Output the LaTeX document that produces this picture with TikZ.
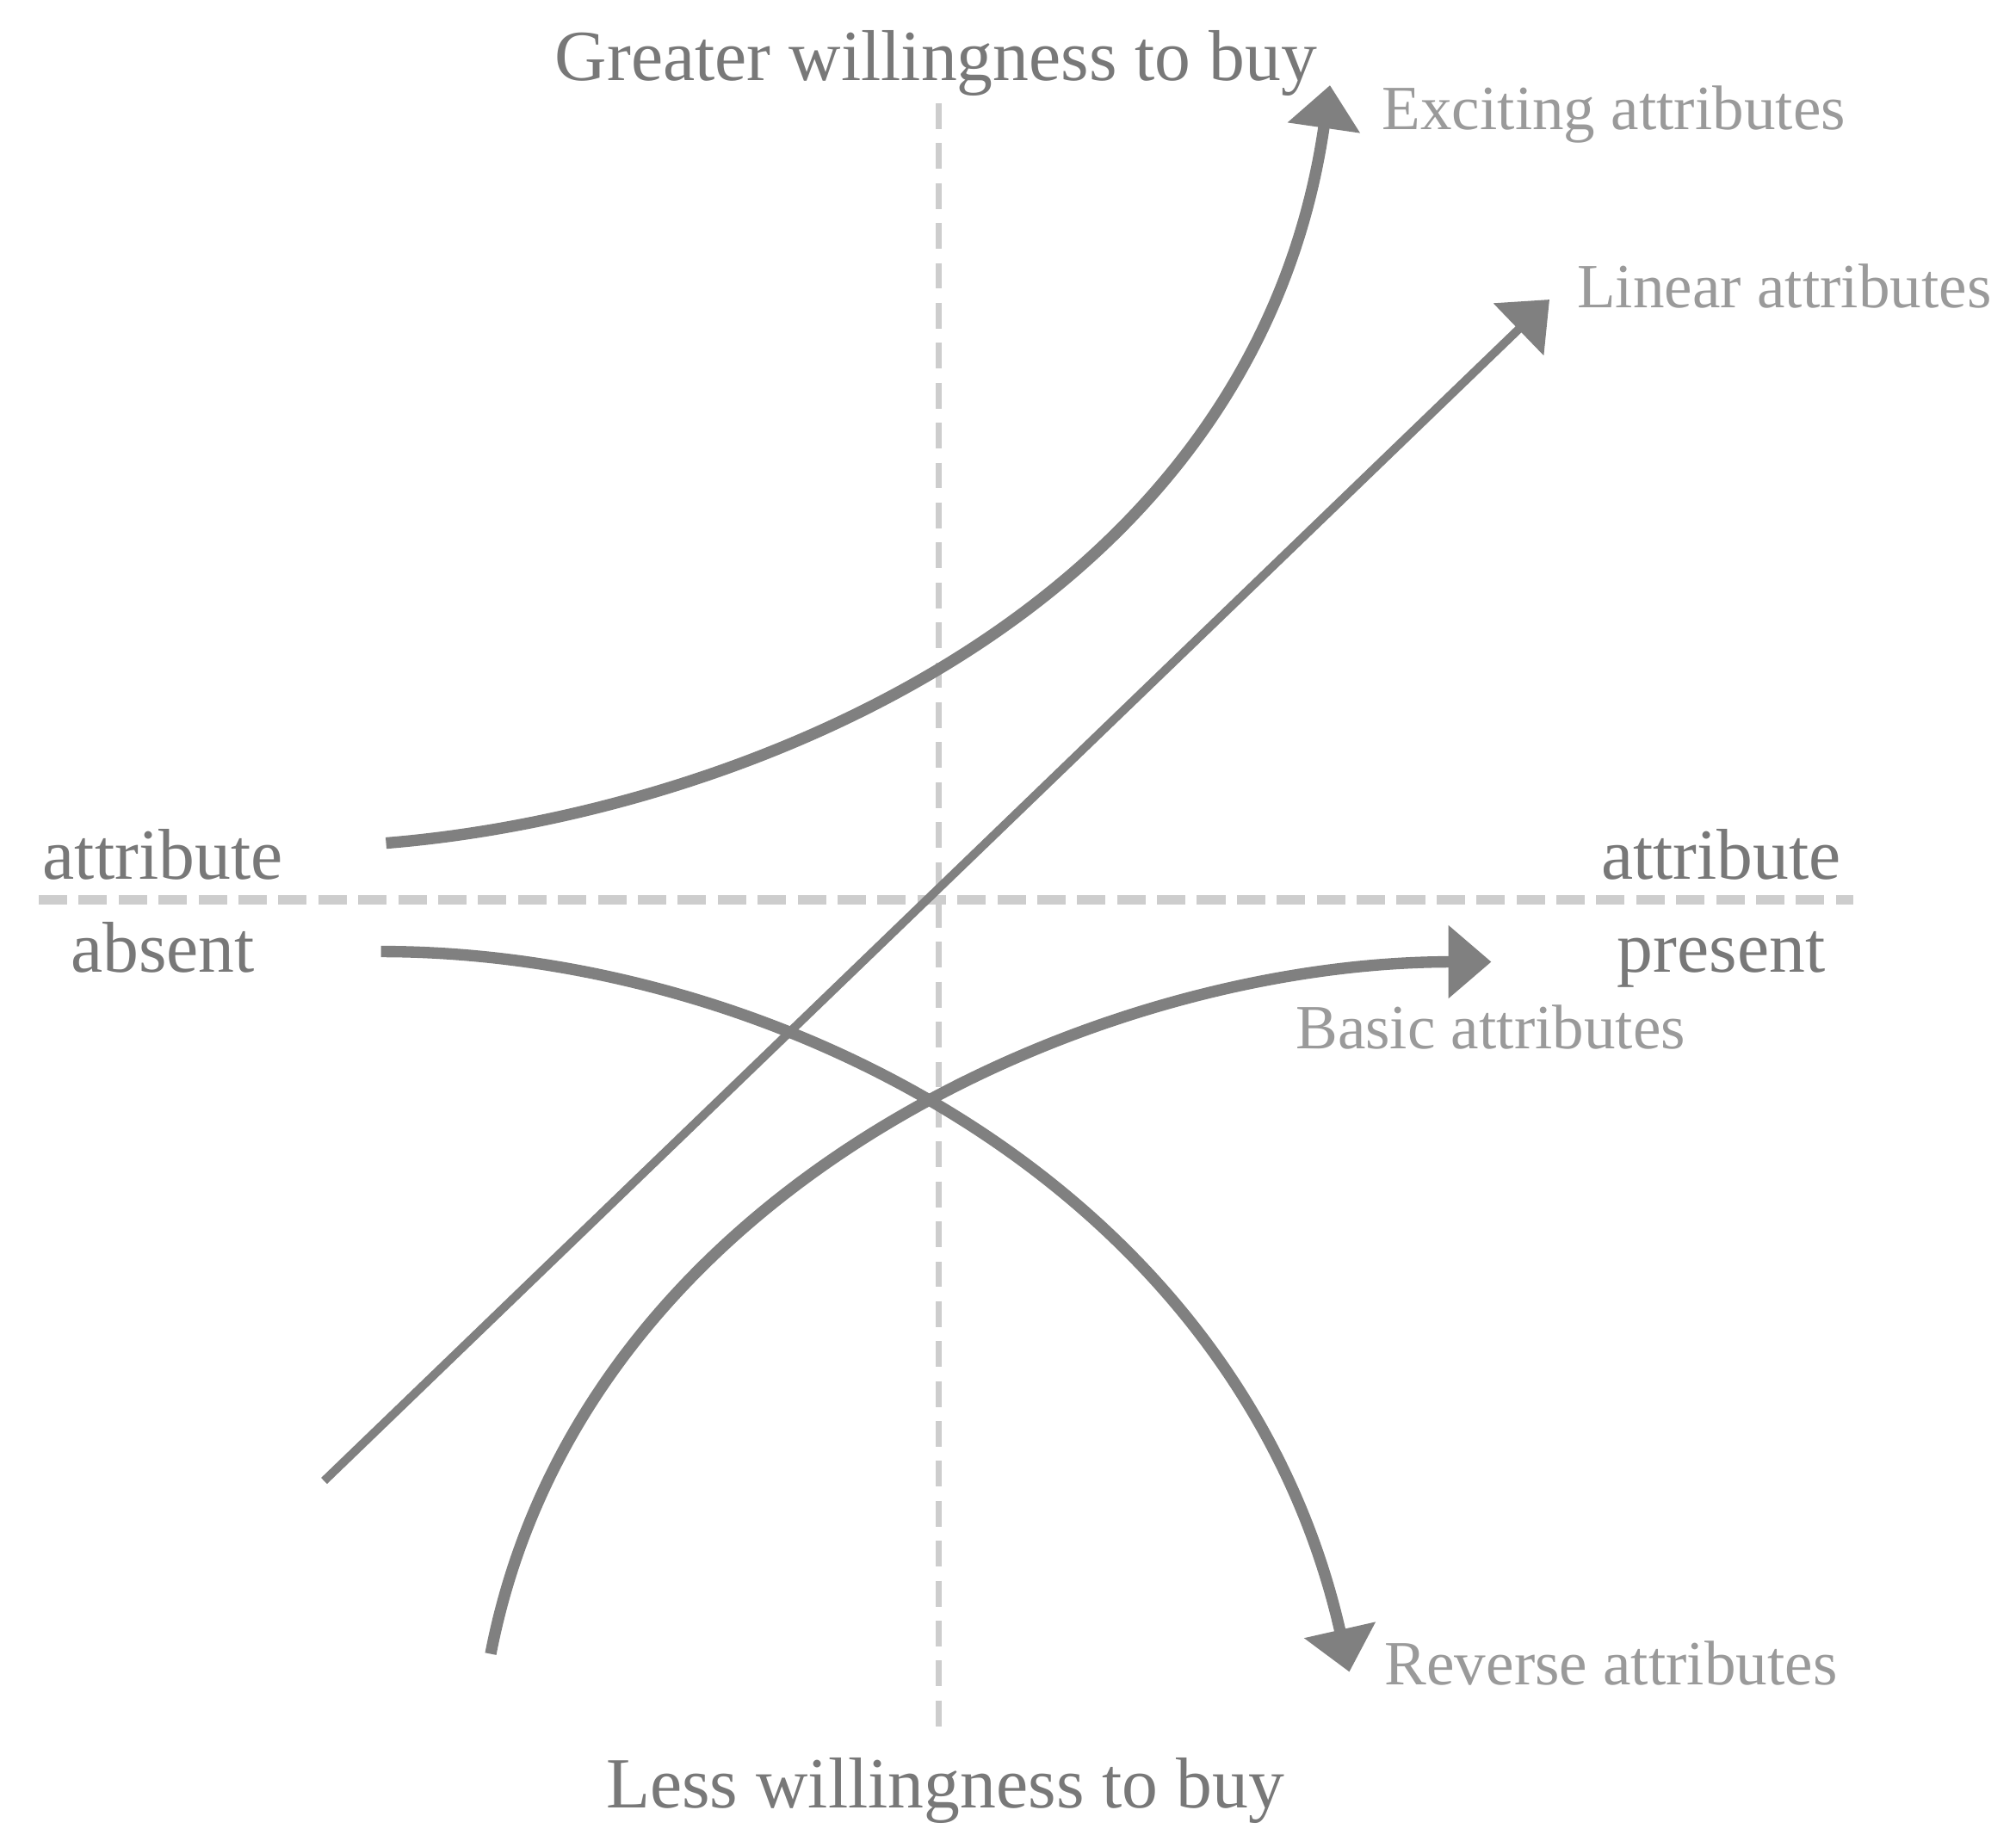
\documentclass[tikz,border=0pt]{standalone}
\usepackage{fontspec}
\setmainfont{Liberation Serif}
\usetikzlibrary{arrows.meta}

\definecolor{curvegray}{HTML}{808080}
\definecolor{axisgray}{HTML}{CDCDCD}
\definecolor{textgray}{HTML}{787878}
\definecolor{namegray}{HTML}{9A9A9A}

\begin{document}
\begin{tikzpicture}
[
    x=0.015cm, y=-0.015cm,
    haxis/.style={draw=axisgray, line width=3.2pt, dash pattern=on 9.4pt off 3.8pt},
    vaxis/.style={draw=axisgray, line width=2.2pt, dash pattern=on 8.5pt off 4.7pt},
    kano/.style={draw=curvegray, line width=3.8pt, -{Triangle[length=0.5cm, width=0.82cm]}},
    axislabel/.style={text=textgray, inner sep=0pt, anchor=base, font=\fontsize{23.8}{28}\selectfont},
    curvelabel/.style={text=namegray, inner sep=0pt, anchor=base west, font=\fontsize{20.8}{25}\selectfont},
]
\useasboundingbox (0,0) rectangle (1561.3,1425.3);

% axes
\coordinate (absentend) at (30,697);
\coordinate (presentend) at (1435,697);
\coordinate (topend) at (727,80);
\coordinate (bottomend) at (727,1343);
\draw [haxis] (absentend) -- (presentend);
\draw [vaxis] (topend) -- (bottomend);

\node [axislabel] (greater) at (725,62) {Greater willingness to buy};
\node [axislabel] (less) at (732,1400) {Less willingness to buy};
\node [axislabel] (absenttop) at (126,681) {attribute};
\node [axislabel] (absentbot) at (126,753) {absent};
\node [axislabel] (presenttop) at (1333,681) {attribute};
\node [axislabel] (presentbot) at (1333,753) {present};

% curves
\coordinate (excitingstart) at (299,653);
\coordinate (excitingend) at (1030,66);
\coordinate (linearstart) at (251,1147);
\coordinate (linearend) at (1200,232);
\coordinate (basicstart) at (380,1281);
\coordinate (basicend) at (1155,745);
\coordinate (reversestart) at (295,737);
\coordinate (reverseend) at (1045,1295);

\draw [kano] (excitingstart) .. controls (560,632) and (970,480) .. (excitingend);
\draw [kano, line width=2.8pt] (linearstart) -- (linearend);
\draw [kano] (basicstart) .. controls (450,920) and (850,745) .. (basicend);
\draw [kano] (reversestart) .. controls (600,737) and (960,920) .. (reverseend);

\node [curvelabel] (exciting) at (1070,100) {Exciting attributes};
\node [curvelabel] (linear) at (1221,238) {Linear attributes};
\node [curvelabel] (basic) at (1003,812) {Basic attributes};
\node [curvelabel] (reverse) at (1072,1305) {Reverse attributes};
\end{tikzpicture}
\end{document}
